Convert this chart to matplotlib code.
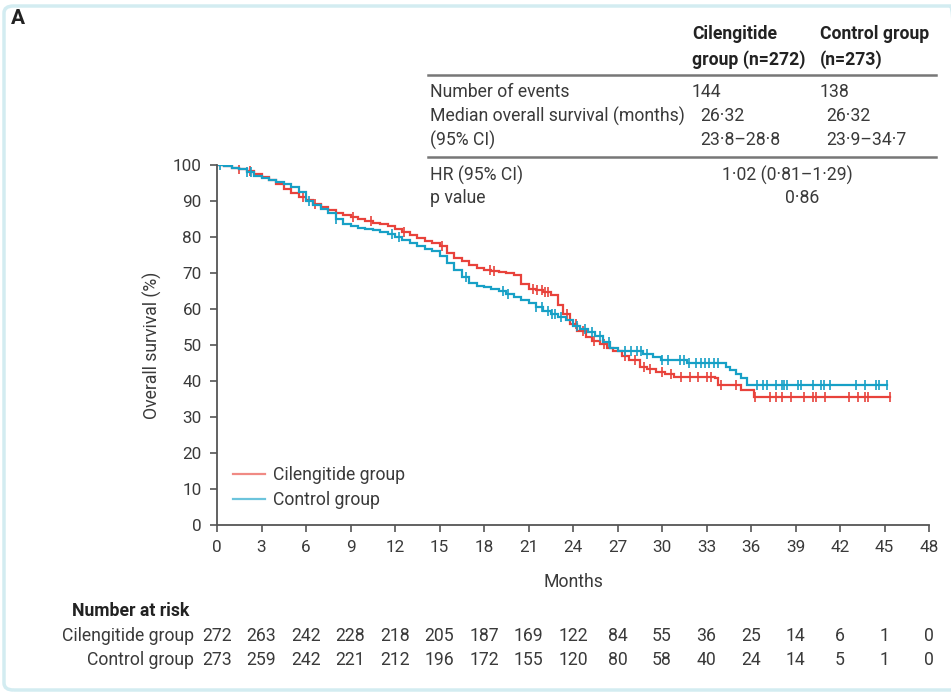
import numpy as np
import matplotlib
matplotlib.use('Agg')
import matplotlib.pyplot as plt
from matplotlib.patches import FancyBboxPatch
from matplotlib.lines import Line2D

plt.rcParams['font.family'] = ['Roboto', 'DejaVu Sans']

# Kaplan-Meier steps (months, % surviving)
cil_t = [0, 0.5, 1, 1.5, 2, 2.5, 3, 3.5, 4, 4.5, 5, 5.5, 6, 6.5, 7, 7.5, 8, 8.5, 9, 9.5,
         10, 10.5, 11, 11.5, 12, 12.5, 13, 13.5, 14, 14.5, 15, 15.5, 16, 16.5, 17, 17.5,
         18, 18.5, 19, 19.5, 20, 20.5, 21, 21.5, 22, 22.5, 23, 23.3, 23.8, 24.3, 24.9,
         25.3, 25.8, 26.3, 26.7, 27.3, 27.8, 28.5, 29.0, 29.6, 30.2, 30.8, 33.6, 33.8,
         35.3, 36.2]
cil_s = [100, 99.8, 99.3, 98.9, 98.2, 97.4, 96.6, 95.8, 94.6, 93.3, 92.2, 91.2, 90.2, 89.2,
         88.4, 87.5, 86.8, 86.2, 85.6, 85.0, 84.5, 84.0, 83.5, 83.0, 82.2, 81.4, 80.5, 79.6,
         78.8, 78.2, 77.6, 75.6, 74.2, 73.2, 72.3, 71.4, 70.8, 70.5, 70.2, 70.0, 69.4, 67.0,
         65.6, 65.2, 64.8, 64.0, 61.0, 58.5, 55.8, 54.0, 52.3, 51.2, 50.2, 49.2, 48.4, 47.0,
         45.8, 44.0, 43.4, 42.6, 42.0, 41.2, 40.7, 38.9, 37.5, 35.6]
ctl_t = [0, 0.5, 1, 1.5, 2, 2.5, 3, 3.5, 4, 4.5, 5, 5.5, 6, 6.5, 7, 7.5, 8, 8.5, 9, 9.5,
         10, 10.5, 11, 11.5, 12, 12.5, 13, 13.5, 14, 14.5, 15, 15.5, 16, 16.5, 17, 17.5,
         18, 18.5, 19, 19.5, 20, 20.5, 21, 21.5, 22, 22.5, 23, 23.5, 24, 24.5, 25, 25.5,
         26, 26.5, 27, 28.7, 29.4, 29.9, 31.7, 34.3, 34.6, 35.0, 35.3, 35.7]
ctl_s = [100, 99.7, 99.3, 98.8, 98.0, 97.0, 96.3, 95.7, 95.2, 94.7, 94.0, 92.5, 90.0, 88.8,
         87.8, 86.8, 85.0, 83.6, 83.0, 82.6, 82.2, 81.9, 81.4, 80.8, 80.0, 79.2, 78.4, 77.6,
         76.8, 76.0, 74.8, 72.8, 70.8, 69.0, 67.3, 66.5, 66.0, 65.6, 65.0, 64.2, 63.3, 62.6,
         61.8, 60.6, 59.4, 58.6, 57.9, 57.0, 55.4, 54.4, 53.5, 52.4, 50.8, 49.2, 48.2, 47.6,
         46.8, 45.8, 44.9, 44.0, 43.1, 42.0, 40.7, 38.9]

# censoring times
cil_cens = [1.5, 2.2, 5.8, 6.6, 9.2, 10.4, 12.6, 15.2, 18.4, 18.7, 21.3, 21.6, 21.9, 22.1,
            22.3, 23.6, 24.2, 24.7, 25.4, 26.1, 27.5, 28.2, 28.8, 29.2, 30.0, 30.6, 31.3,
            31.9, 32.4, 33.0, 33.3, 34.0, 35.0, 36.3, 37.3, 37.7, 38.1, 38.7, 39.6, 40.2,
            40.4, 41.0, 42.6, 43.2, 43.7, 43.9, 45.4]
ctl_cens = [0.2, 2.0, 2.3, 6.2, 8.0, 11.8, 12.3, 16.8, 19.3, 19.6, 21.5, 21.9, 22.3, 22.6,
            22.8, 23.2, 24.3, 24.8, 25.3, 25.8, 26.4, 27.5, 27.9, 28.3, 28.6, 29.0, 30.0,
            30.4, 31.2, 31.5, 31.8, 32.3, 32.6, 32.9, 33.2, 33.5, 33.8, 36.4, 36.8, 37.1,
            37.7, 38.1, 38.2, 38.4, 39.2, 39.4, 40.2, 40.7, 40.9, 41.3, 43.1, 43.7, 44.4,
            44.6, 45.2]

risk_months = list(range(0, 49, 3))
cil_risk = [272, 263, 242, 228, 218, 205, 187, 169, 122, 84, 55, 36, 25, 14, 6, 1, 0]
ctl_risk = [273, 259, 242, 221, 212, 196, 172, 155, 120, 80, 58, 40, 24, 14, 5, 1, 0]

RED = '#e8423b'
BLUE = '#17a0c6'
TXT = '#3a3a3a'
FS = 12.7

fig = plt.figure(figsize=(9.51, 6.99), dpi=100)
W, H = 951.0, 699.0

def fx(px):
    return px / W

def fy(py):
    return 1 - py / H

# light frame round the panel
fig.patches.append(FancyBboxPatch((fx(4), fy(690)), fx(960) - fx(4), fy(6) - fy(690),
                                  boxstyle='round,pad=0,rounding_size=0.01',
                                  transform=fig.transFigure, fill=False,
                                  edgecolor='#d3ecf1', linewidth=2.5))

ax = fig.add_axes([fx(217), fy(525), fx(929) - fx(217), fy(165) - fy(525)])

def surv_at(times, steps, vals):
    idx = np.searchsorted(steps, times, side='right') - 1
    return np.array(vals)[idx]

for t, s, c, col in [(cil_t, cil_s, cil_cens, RED), (ctl_t, ctl_s, ctl_cens, BLUE)]:
    tt = list(t) + [max(c)]
    ss = list(s) + [s[-1]]
    ax.step(tt, ss, where='post', color=col, linewidth=1.6, solid_joinstyle='miter')
    ax.plot(c, surv_at(c, t, s), linestyle='none', marker='|', markersize=7,
            markeredgewidth=1.2, color=col)

ax.set_xlim(0, 48)
ax.set_ylim(0, 100)
ax.set_xticks(risk_months)
ax.set_yticks(range(0, 101, 10))
for side in ['top', 'right']:
    ax.spines[side].set_visible(False)
for side in ['left', 'bottom']:
    ax.spines[side].set_color('#555555')
    ax.spines[side].set_linewidth(1.3)
ax.tick_params(axis='both', direction='out', length=5, width=1.2, color='#555555',
               labelsize=12.3, labelcolor=TXT, pad=6)
ax.set_xlabel('Months', fontsize=FS, color=TXT, labelpad=13)
ax.set_ylabel('Overall survival (%)', fontsize=FS, color=TXT, labelpad=8)

handles = [Line2D([], [], color='#f08a84', linewidth=1.6),
           Line2D([], [], color='#6cc4dc', linewidth=1.6)]
ax.legend(handles, ['Cilengitide group', 'Control group'], loc='lower left',
          bbox_to_anchor=(0.0, 0.0), frameon=False, fontsize=FS, handlelength=1.8,
          handletextpad=0.5, labelspacing=0.38, labelcolor=TXT)

# panel letter
fig.text(fx(11), fy(18), 'A', fontsize=15, fontweight='bold', color='#222222', va='center')

# summary table
hdr = dict(fontsize=FS, fontweight='bold', color='#222222', va='center')
fig.text(fx(692), fy(34), 'Cilengitide', **hdr)
fig.text(fx(692), fy(60), 'group (n=272)', **hdr)
fig.text(fx(820), fy(34), 'Control group', **hdr)
fig.text(fx(820), fy(60), '(n=273)', **hdr)
for py in [75, 157]:
    fig.add_artist(Line2D([fx(428), fx(936)], [fy(py), fy(py)], color='#777777',
                          linewidth=1.8, transform=fig.transFigure))
row = dict(fontsize=FS, color=TXT, va='center')
fig.text(fx(430), fy(92), 'Number of events', **row)
fig.text(fx(430), fy(116), 'Median overall survival (months)', **row)
fig.text(fx(430), fy(140), '(95% CI)', **row)
fig.text(fx(692), fy(92), '144', **row)
fig.text(fx(820), fy(92), '138', **row)
fig.text(fx(700), fy(116), '26·32', **row)
fig.text(fx(826), fy(116), '26·32', **row)
fig.text(fx(700), fy(140), '23·8–28·8', **row)
fig.text(fx(826), fy(140), '23·9–34·7', **row)
fig.text(fx(430), fy(175), 'HR (95% CI)', **row)
fig.text(fx(722), fy(175), '1·02 (0·81–1·29)', **row)
fig.text(fx(430), fy(198), 'p value', **row)
fig.text(fx(785), fy(198), '0·86', **row)

# number at risk
fig.text(fx(72), fy(611), 'Number at risk', fontsize=FS, fontweight='bold',
         color='#222222', va='center')
for py, name, vals in [(636, 'Cilengitide group', cil_risk), (660, 'Control group', ctl_risk)]:
    fig.text(fx(194), fy(py), name, ha='right', **row)
    for m, v in zip(risk_months, vals):
        xp = ax.transData.transform((m, 0))[0]
        fig.text(xp / W, fy(py), str(v), ha='center', **row)

fig.savefig('out.png', dpi=100)
